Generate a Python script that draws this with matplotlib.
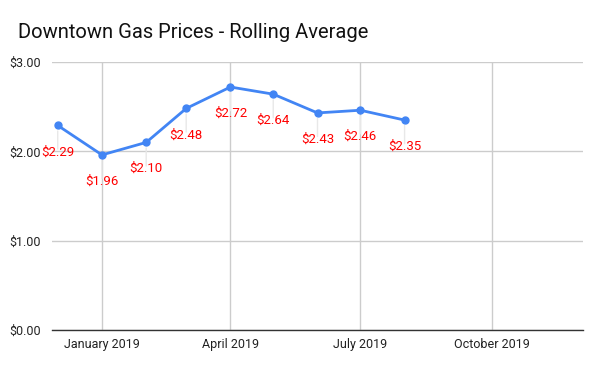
import numpy as np
import pandas as pd
import matplotlib
matplotlib.use("Agg")
import matplotlib.pyplot as plt
import matplotlib.dates as mdates

plt.rcParams["font.family"] = ["Roboto", "DejaVu Sans"]

# data (monthly rolling average)
months = ["2018-12-01", "2019-01-01", "2019-02-01", "2019-03-01", "2019-04-01",
          "2019-05-01", "2019-06-01", "2019-07-01", "2019-08-01"]
prices = [2.29, 1.96, 2.10, 2.48, 2.72, 2.64, 2.43, 2.46, 2.35]
tick_dates = ["2019-01-01", "2019-04-01", "2019-07-01", "2019-10-01"]
tick_labels = ["January 2019", "April 2019", "July 2019", "October 2019"]
y_ticks = [0, 1, 2, 3]

dates = pd.to_datetime(months)

fig = plt.figure(figsize=(6, 3.71), dpi=100)
ax = fig.add_axes([52 / 600, 1 - 330 / 371, (583 - 52) / 600, (330 - 62) / 371])

ax.plot(dates, prices, color="#4285f4", linewidth=2, marker="o", markersize=5, zorder=3)

for d, p in zip(dates, prices):
    # faint leader line from point to label
    ax.annotate("", xy=(d, p), xytext=(0, -17), textcoords="offset points",
                xycoords="data",
                arrowprops=dict(arrowstyle="-", color="#e8e8e8", lw=1, shrinkA=0, shrinkB=4))
    ax.annotate(f"${p:.2f}", xy=(d, p), xytext=(0, -19), textcoords="offset points",
                ha="center", va="center", color="#ff0000", fontsize=9.5, zorder=4)

ax.set_xlim(pd.Timestamp("2018-11-27"), pd.Timestamp("2019-12-04"))
ax.set_ylim(0, 3)
ax.set_yticks(y_ticks)
ax.set_yticklabels([f"${v:.2f}" for v in y_ticks])
ax.set_xticks(pd.to_datetime(tick_dates))
ax.set_xticklabels(tick_labels)

ax.grid(True, color="#cccccc", linewidth=1)
ax.set_axisbelow(True)
for s in ["top", "right", "left"]:
    ax.spines[s].set_visible(False)
ax.spines["bottom"].set_color("#333333")
ax.spines["bottom"].set_linewidth(1)
ax.tick_params(axis="both", length=0, labelsize=9, colors="#222222")
ax.tick_params(axis="y", pad=8)
ax.tick_params(axis="x", pad=6)

fig.text(18 / 600, 1 - 32 / 371, "Downtown Gas Prices - Rolling Average",
         fontsize=14.5, color="#111111", ha="left", va="center")

fig.savefig("out.png", dpi=100)
